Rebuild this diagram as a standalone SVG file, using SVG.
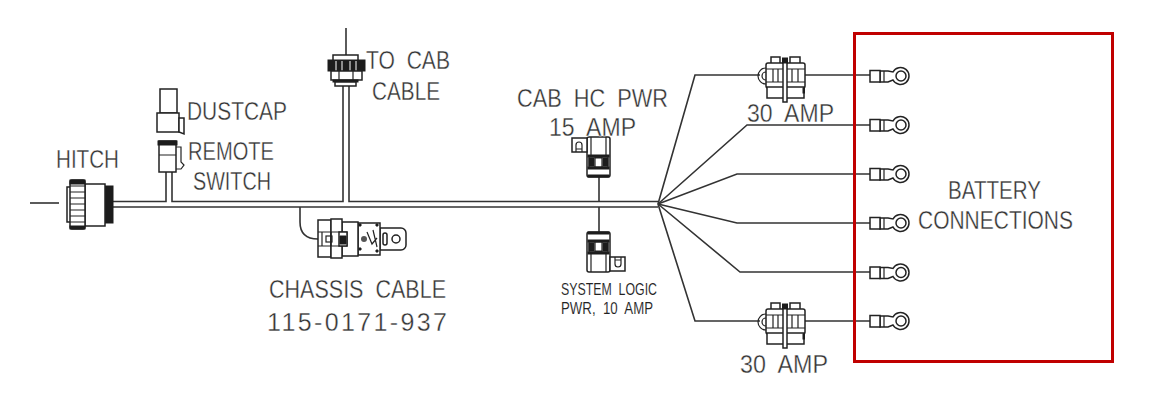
<svg xmlns="http://www.w3.org/2000/svg" width="1150" height="406" viewBox="0 0 1150 406">
<style>
text{font-family:"Liberation Sans",Arial,sans-serif;fill:#333;font-size:25px;stroke:#fff;stroke-width:.35px}
.s{font-size:16px;stroke-width:.1px;fill:#222}
.w{fill:none;stroke:#333;stroke-width:1.6}
.b{fill:#fff;stroke:#222;stroke-width:1.5}
.d{fill:#1c1c1c;stroke:#1c1c1c;stroke-width:1}
.t{fill:none;stroke:#222;stroke-width:1.2}
</style>
<defs>
<g id="ring">
<path class="b" d="M880 71H888L893 72A8.500 8.500 0 1 1 893 80L888 82H880Z"/>
<rect class="b" x="870" y="70.500" width="10" height="11.500"/>
<path class="t" d="M884 71V82"/>
<circle class="b" cx="901" cy="76" r="5"/>
</g>
<g id="fuse">
<path class="t" d="M766 68A8 8 0 0 0 766 84M766 72A4 4 0 0 0 766 80"/>
<rect class="b" x="771" y="57" width="9" height="7"/>
<rect class="b" x="790" y="57" width="10" height="7"/>
<rect class="b" x="766" y="63" width="39" height="25" rx="2"/>
<path class="t" d="M766 69H805M766 82H805M773 69V82M778 69V82M792 69V82M798 69V82"/>
<rect class="b" x="767" y="87" width="37" height="11"/>
<rect class="d" x="803" y="88" width="1.500" height="5"/>
<rect class="b" x="783" y="59" width="4" height="43"/>
<rect class="d" x="782.500" y="58" width="5" height="5"/>
</g>
<g id="plug">
<rect class="b" x="587" y="137" width="23" height="40" rx="2"/>
<path class="t" d="M591 137V155M606 137V155"/>
<rect class="d" x="588" y="155" width="21" height="2"/>
<path class="t" d="M589 157H608V167H589Z M595 158V167H602V158Z"/>
<rect class="d" x="589" y="158" width="5" height="8"/>
<rect class="d" x="603" y="158" width="5" height="8"/>
<rect class="d" x="588" y="167" width="21" height="2"/>
<rect class="d" x="588" y="175" width="21" height="2"/>
<rect class="b" x="572" y="138" width="15" height="14"/>
<path class="t" d="M576 152V145A3 3 0 0 1 582 145V152M576 149H582"/>
</g>
</defs>

<g id="connectors">
<path class="w" d="M30 203H59"/>
<path class="w" d="M113 207H658M113 201.500H166V172M172 172V201.500H343V85M349 85V201.500H658"/>
<path class="w" d="M300 207V222Q300 239 318 239"/>
<path class="w" d="M346 28V55"/>
<path class="w" d="M599 177V201.500M599 207V232"/>
<path class="w" d="M658 204L695 75H760M805 75H870"/>
<path class="w" d="M658 204L747 125H870"/>
<path class="w" d="M658 204L737 174H870"/>
<path class="w" d="M658 204L737 223H870"/>
<path class="w" d="M658 204L740 272H870"/>
<path class="w" d="M658 204L695 321H760M805 321H870"/>
</g>

<g id="hitch">
<rect class="d" x="105" y="186" width="8" height="37"/>
<rect class="b" x="85" y="184" width="20" height="42"/>
<rect class="b" x="67" y="187" width="5" height="35"/>
<rect class="b" x="70" y="180" width="15" height="49" rx="2"/>
<path class="t" d="M70 186H85M70 192H85M70 198H85M70 204H85M70 210H85M70 216H85M70 222H85"/>
<rect class="d" x="70" y="180" width="15" height="4"/>
<rect class="d" x="70" y="226" width="15" height="3"/>
<text x="56" y="168" textLength="63" lengthAdjust="spacingAndGlyphs">HITCH</text>
</g>

<g id="dustcap">
<rect class="b" x="160" y="89" width="17" height="24"/>
<rect class="b" x="157" y="113" width="22" height="19"/>
<path class="b" d="M179 118H184V134L179 132Z"/>
<text x="187" y="120" textLength="100" lengthAdjust="spacingAndGlyphs">DUSTCAP</text>
</g>

<g id="remote-switch">
<rect class="b" x="159" y="141" width="17" height="31"/>
<rect class="d" x="158" y="141" width="19" height="4"/>
<path class="t" d="M159 155H176M176 147H181V162L184 165L181 169H176"/>
<text x="188" y="160" textLength="86" lengthAdjust="spacingAndGlyphs">REMOTE</text>
<text x="193" y="190" textLength="78" lengthAdjust="spacingAndGlyphs">SWITCH</text>
</g>

<g id="to-cab">
<rect class="b" x="333" y="55" width="25" height="6"/>
<rect class="d" x="328" y="60" width="37" height="11"/>
<path d="M336 61V71M342 61V71M350 61V71M356 61V71" stroke="#fff" stroke-width="1"/>
<rect class="b" x="331" y="71" width="31" height="9"/>
<path class="t" d="M339 71V80M353 71V80"/>
<rect class="d" x="333" y="80" width="25" height="2"/>
<rect class="b" x="335" y="82" width="21" height="4"/>
<text x="366" y="69" textLength="84" lengthAdjust="spacingAndGlyphs" xml:space="preserve">TO  CAB</text>
<text x="372" y="100" textLength="68" lengthAdjust="spacingAndGlyphs">CABLE</text>
</g>

<g id="chassis-cable">
<path class="b" d="M380 228H401A5 5 0 0 1 406 233V245A5 5 0 0 1 401 250H380Z"/>
<circle class="b" cx="396" cy="239" r="4"/>
<rect class="b" x="383" y="233" width="4" height="12" rx="2"/>
<rect class="b" x="358" y="223" width="22" height="32"/>
<path class="t" d="M367 232L372 244L377 238M373 230L377 247"/>
<circle cx="364" cy="239" r="3" fill="#555"/>
<path class="d" d="M359 224h2v2h-2zM376 224h2v2h-2zM359 248h2v2h-2zM376 250h2v2h-2z"/>
<rect class="b" x="342" y="222" width="16" height="34"/>
<rect class="b" x="318" y="220" width="13" height="37"/>
<rect class="b" x="331" y="219" width="11" height="39"/>
<path class="t" d="M318 232H347V246H318M322 232V246M331 232V246"/>
<rect class="b" x="339" y="232" width="8" height="14"/>
<path class="d" d="M340 236h6v8h-6z"/>
<rect class="t" x="326" y="236" width="6" height="6"/>
<text x="269" y="298" textLength="177" lengthAdjust="spacingAndGlyphs" xml:space="preserve">CHASSIS  CABLE</text>
<text x="267" y="331" textLength="180" lengthAdjust="spacing">115-0171-937</text>
</g>

<g id="cab-hc-pwr">
<use href="#plug"/>
<text x="517" y="107" textLength="151" lengthAdjust="spacingAndGlyphs" xml:space="preserve">CAB  HC  PWR</text>
<text x="549" y="136" textLength="87" lengthAdjust="spacingAndGlyphs" xml:space="preserve">15  AMP</text>
</g>

<g id="system-logic">
<use href="#plug" transform="translate(1197 409) rotate(180)"/>
<text class="s" x="561" y="295" textLength="96" lengthAdjust="spacingAndGlyphs" xml:space="preserve">SYSTEM  LOGIC</text>
<text class="s" x="561" y="314" textLength="92" lengthAdjust="spacingAndGlyphs" xml:space="preserve">PWR,  10  AMP</text>
</g>

<g id="fuse-top">
<use href="#fuse"/>
<text x="747" y="122" textLength="87" lengthAdjust="spacingAndGlyphs" xml:space="preserve">30  AMP</text>
</g>
<g id="fuse-bottom">
<use href="#fuse" y="246"/>
<text x="740" y="373" textLength="88" lengthAdjust="spacingAndGlyphs" xml:space="preserve">30  AMP</text>
</g>

<g id="battery-connections">
<rect x="854.500" y="33.500" width="258" height="328" fill="none" stroke="#c00000" stroke-width="3"/>
<use href="#ring"/>
<use href="#ring" y="49"/>
<use href="#ring" y="98"/>
<use href="#ring" y="147"/>
<use href="#ring" y="196.500"/>
<use href="#ring" y="245"/>
<text x="948" y="199" textLength="93" lengthAdjust="spacingAndGlyphs">BATTERY</text>
<text x="918" y="229" textLength="155" lengthAdjust="spacingAndGlyphs">CONNECTIONS</text>
</g>
</svg>
